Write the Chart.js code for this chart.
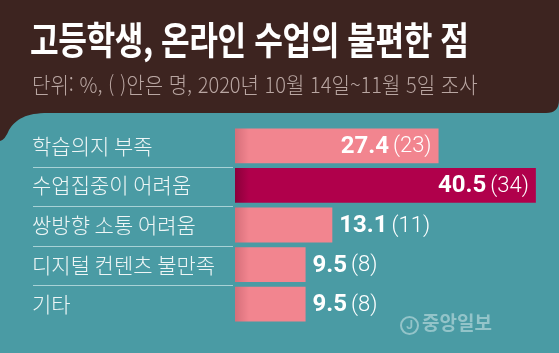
<!DOCTYPE html>
<html lang="ko">
<head>
<meta charset="UTF-8">
<title>고등학생, 온라인 수업의 불편한 점</title>
<script src="https://cdn.jsdelivr.net/npm/chart.js"></script>
<style>
    html, body {
        margin: 0;
        padding: 0;
        background: #4a9ba4;
    }
    .wrap {
        position: relative;
        width: 559px;
        height: 353px;
        overflow: hidden;
        font-family: "Noto Sans CJK KR", "Noto Sans", sans-serif;
    }
    canvas {
        position: absolute;
        left: 0;
        top: 0;
    }
    .title {
        position: absolute;
        left: 30px;
        top: 19px;
        font-size: 38px;
        font-weight: bold;
        line-height: 1;
        color: #ffffff;
        white-space: nowrap;
        transform: scaleX(0.82);
        transform-origin: left top;
        letter-spacing: -0.5px;
    }
    .sub {
        position: absolute;
        left: 32px;
        top: 72px;
        font-size: 22px;
        font-weight: 300;
        line-height: 1;
        color: #b9a6a2;
        white-space: nowrap;
        transform: scaleX(0.91);
        transform-origin: left top;
    }
    .logo {
        position: absolute;
        left: 400px;
        top: 312px;
        font-size: 19px;
        font-weight: bold;
        line-height: 1;
        color: #93c4c9;
        white-space: nowrap;
    }
    .logo .j {
        display: inline-block;
        width: 15px;
        height: 15px;
        border: 2px solid #93c4c9;
        border-radius: 50%;
        font-size: 12px;
        line-height: 15px;
        text-align: center;
        vertical-align: 1px;
        margin-right: 3px;
        font-family: Roboto, sans-serif;
    }
</style>
</head>
<body>
<div class="wrap">
    <canvas id="chart" width="559" height="353"></canvas>
    <div class="title">고등학생, 온라인 수업의 불편한 점</div>
    <div class="sub">단위: %, ( )안은 명, 2020년 10월 14일~11월 5일 조사</div>
    <div class="logo"><span class="j">J</span>중앙일보</div>
</div>

<script>
    const categories = ['학습의지 부족', '수업집중이 어려움', '쌍방향 소통 어려움', '디지털 컨텐츠 불만족', '기타'];
    const percents = [27.4, 40.5, 13.1, 9.5, 9.5];
    const counts = [23, 34, 11, 8, 8];

    const pink = '#f2858f';
    const pinkShade = '#d66f7a';
    const dark = '#b0004b';
    const darkShade = '#8a003a';
    const maxIdx = percents.indexOf(Math.max(...percents));

    // brown header with the little drip on the left
    const headerBg = {
        id: 'headerBg',
        beforeDraw(chart) {
            const c = chart.ctx;
            const w = chart.width;
            c.save();
            c.fillStyle = '#4a9ba4';
            c.fillRect(0, 0, w, chart.height);
            c.fillStyle = '#3d2420';
            c.beginPath();
            c.moveTo(0, 0);
            c.lineTo(w, 0);
            c.lineTo(w, 100);
            c.quadraticCurveTo(w, 113, w - 13, 113);
            c.lineTo(48, 113);
            c.bezierCurveTo(26, 113, 16, 119, 9, 130);
            c.quadraticCurveTo(5, 140, 0, 141);
            c.closePath();
            c.fill();
            c.restore();
        }
    };

    // thin rules between the category names
    const separators = {
        id: 'separators',
        afterDraw(chart) {
            const y = chart.scales.y;
            const c = chart.ctx;
            c.save();
            c.strokeStyle = 'rgba(200, 228, 231, 0.75)';
            c.lineWidth = 1;
            for (let i = 0; i < categories.length - 1; i++) {
                const py = Math.round((y.getPixelForValue(i) + y.getPixelForValue(i + 1)) / 2) + 1.5;
                c.beginPath();
                c.moveTo(y.left + 1, py);
                c.lineTo(chart.chartArea.left - 2, py);
                c.stroke();
            }
            c.restore();
        }
    };

    // "27.4 (23)" labels
    const valueLabels = {
        id: 'valueLabels',
        afterDatasetsDraw(chart) {
            const c = chart.ctx;
            const meta = chart.getDatasetMeta(0);
            c.save();
            c.textBaseline = 'middle';
            c.fillStyle = '#ffffff';
            meta.data.forEach((bar, i) => {
                const main = percents[i].toFixed(1);
                const extra = '(' + counts[i] + ')';
                c.font = 'bold 24px Roboto';
                const w1 = c.measureText(main).width;
                c.font = '300 22px Roboto';
                const w2 = c.measureText(extra).width;
                const total = w1 + 4 + w2;
                const barW = bar.x - bar.base;
                let x;
                if (barW > total + 30) {
                    x = bar.x - 7 - total;
                } else {
                    x = bar.x + 7;
                }
                c.textAlign = 'left';
                c.font = 'bold 24px Roboto';
                c.fillText(main, x, bar.y + 1);
                c.font = '300 22px Roboto';
                c.fillText(extra, x + w1 + 4, bar.y + 1);
            });
            c.restore();
        }
    };

    function barFill(ctx) {
        const chart = ctx.chart;
        const area = chart.chartArea;
        const base = ctx.dataIndex === maxIdx ? dark : pink;
        if (!area) return base;
        const shade = ctx.dataIndex === maxIdx ? darkShade : pinkShade;
        const g = chart.ctx.createLinearGradient(area.left, 0, area.left + 14, 0);
        g.addColorStop(0, shade);
        g.addColorStop(1, base);
        return g;
    }

    new Chart(document.getElementById('chart'), {
        type: 'bar',
        data: {
            labels: categories,
            datasets: [{
                data: percents,
                backgroundColor: barFill,
                borderWidth: 0,
                categoryPercentage: 0.88,
                barPercentage: 1
            }]
        },
        options: {
            indexAxis: 'y',
            responsive: false,
            animation: false,
            events: [],
            layout: {
                padding: { top: 126, bottom: 29, left: 32, right: 12 }
            },
            plugins: {
                legend: { display: false },
                tooltip: { enabled: false }
            },
            scales: {
                x: {
                    display: false,
                    min: 0,
                    max: 42
                },
                y: {
                    grid: { display: false },
                    border: { display: false },
                    afterFit(scale) { scale.width = 203; },
                    ticks: {
                        crossAlign: 'far',
                        color: '#eef6f6',
                        font: { family: '"Noto Sans CJK KR"', size: 21, weight: 300 }
                    }
                }
            }
        },
        plugins: [headerBg, separators, valueLabels]
    });
</script>
</body>
</html>
